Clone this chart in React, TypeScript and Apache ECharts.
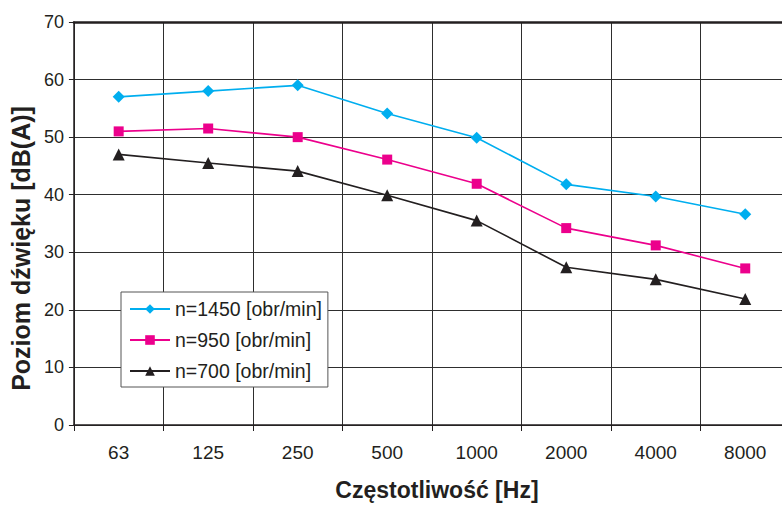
import React, { useEffect, useRef } from "react";
import * as echarts from "echarts";

const categories = ["63", "125", "250", "500", "1000", "2000", "4000", "8000"];
const n1450 = [57.0, 58.0, 59.0, 54.1, 49.9, 41.8, 39.7, 36.6];
const n950 = [51.0, 51.5, 50.0, 46.1, 41.9, 34.2, 31.2, 27.2];
const n700 = [47.0, 45.5, 44.1, 39.9, 35.5, 27.4, 25.3, 21.9];
const seriesNames = ["n=1450 [obr/min]", "n=950 [obr/min]", "n=700 [obr/min]"];

const FONT = "Liberation Sans, Arial, Helvetica, sans-serif";

export default function App() {
  const ref = useRef<HTMLDivElement>(null);
  useEffect(() => {
    if (!ref.current) return;
    document.body.style.margin = "0";
    document.body.style.overflow = "hidden";
    document.documentElement.style.overflow = "hidden";
    const chart = echarts.init(ref.current, undefined, { renderer: "svg" });
    const lineColor = "#2e2e2e";
    chart.setOption({
      animation: false,
      backgroundColor: "#ffffff",
      textStyle: { fontFamily: FONT },
      grid: { left: 70, top: 22, bottom: 79, right: 2 },
      legend: {
        orient: "vertical",
        left: 121,
        top: 292,
        backgroundColor: "#ffffff",
        borderColor: "#555555",
        borderWidth: 1,
        borderRadius: 0,
        padding: [7, 6, 6, 8],
        itemGap: 11,
        itemWidth: 40,
        itemHeight: 12,
        textStyle: { fontFamily: FONT, fontSize: 19.5, color: "#231f20", lineHeight: 20 },
        data: seriesNames,
      },
      xAxis: [
        {
          type: "category",
          data: categories,
          boundaryGap: true,
          name: "Częstotliwość [Hz]",
          nameLocation: "middle",
          nameGap: 53,
          nameTextStyle: { fontFamily: FONT, fontSize: 23, fontWeight: "bold", color: "#231f20", padding: [0, 0, 0, 10] },
          axisLine: { show: true, lineStyle: { color: "#231f20", width: 1.5 } },
          axisTick: { show: true, length: 6, interval: 0, lineStyle: { color: "#231f20" } },
          axisLabel: { fontFamily: FONT, fontSize: 19, color: "#231f20", margin: 18, interval: 0 },
          splitLine: { show: true, interval: 0, lineStyle: { color: lineColor, width: 1 } },
        },
        {
          type: "category",
          data: categories,
          position: "top",
          axisLine: { show: true, lineStyle: { color: "#231f20", width: 2.5 } },
          axisTick: { show: false },
          axisLabel: { show: false },
          splitLine: { show: false },
        },
      ],
      yAxis: {
        type: "value",
        min: 0,
        max: 70,
        interval: 10,
        name: "Poziom dźwięku [dB(A)]",
        nameLocation: "middle",
        nameGap: 36,
        nameTextStyle: { fontFamily: FONT, fontSize: 25, fontWeight: "bold", color: "#231f20", padding: [0, 50, 0, 0] },
        axisLine: { show: true, lineStyle: { color: "#231f20", width: 1.5 } },
        axisTick: { show: true, length: 5, lineStyle: { color: "#231f20" } },
        axisLabel: { fontFamily: FONT, fontSize: 18, color: "#231f20", margin: 10 },
        splitLine: { show: true, lineStyle: { color: lineColor, width: 1 } },
      },
      series: [
        {
          name: seriesNames[0],
          type: "line",
          data: n1450,
          symbol: "diamond",
          symbolSize: 12,
          itemStyle: { color: "#00aeef" },
          lineStyle: { color: "#00aeef", width: 1.6 },
        },
        {
          name: seriesNames[1],
          type: "line",
          data: n950,
          symbol: "rect",
          symbolSize: 10,
          itemStyle: { color: "#ec008c" },
          lineStyle: { color: "#ec008c", width: 1.6 },
        },
        {
          name: seriesNames[2],
          type: "line",
          data: n700,
          symbol: "triangle",
          symbolSize: 12,
          itemStyle: { color: "#231f20" },
          lineStyle: { color: "#231f20", width: 1.6 },
        },
      ],
    });
    return () => chart.dispose();
  }, []);
  return (
    <div style={{ width: 782, height: 506, position: "absolute", left: 0, top: 0, overflow: "hidden" }}>
      <div ref={ref} style={{ width: 792, height: 506 }} />
    </div>
  );
}
